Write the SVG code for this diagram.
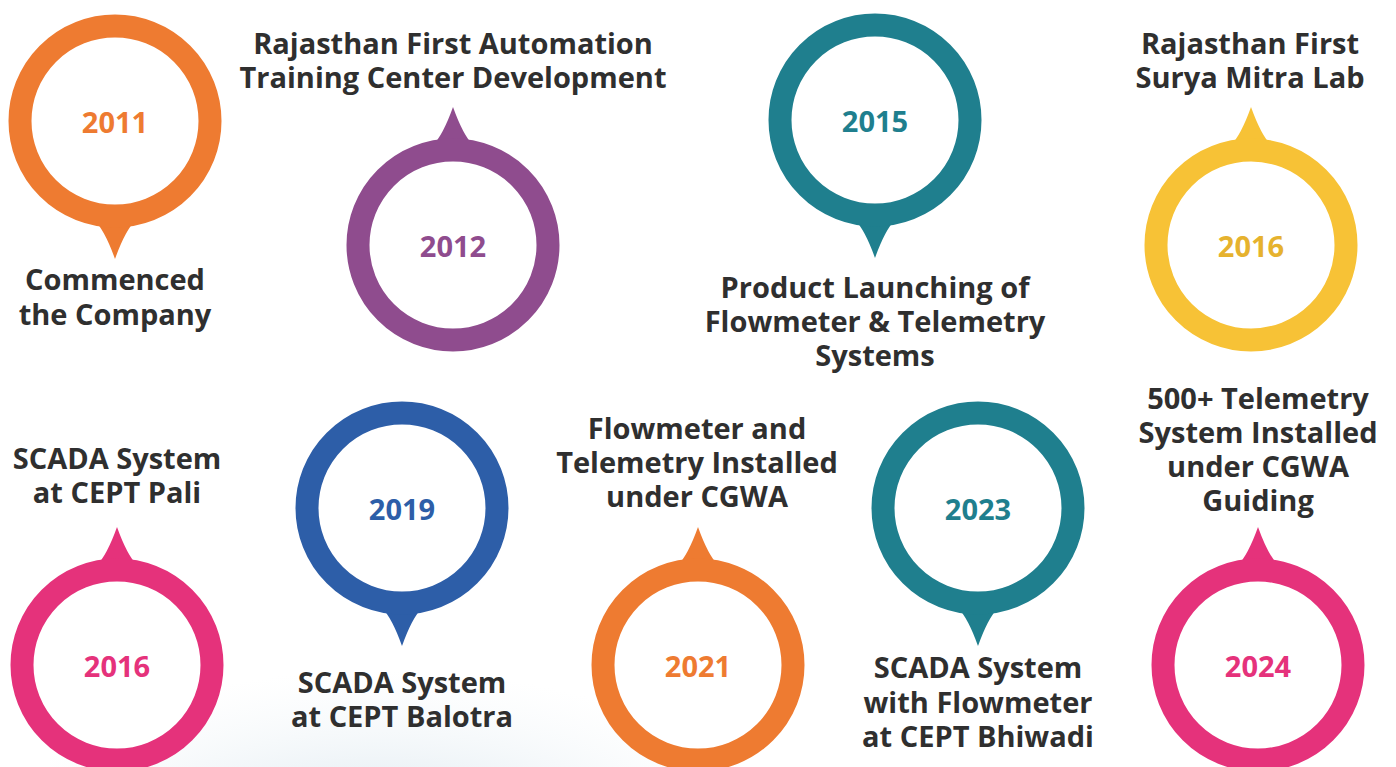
<svg xmlns="http://www.w3.org/2000/svg" width="1396" height="767" viewBox="0 0 1396 767">
<defs>
<style>
.lbl{font-family:"Open Sans","Noto Sans","DejaVu Sans",sans-serif;font-weight:700;font-size:29px;fill:#2f2f2f;text-anchor:middle}
.yr{font-family:"Open Sans","Noto Sans","DejaVu Sans",sans-serif;font-weight:700;font-size:29px;text-anchor:middle;dominant-baseline:central}
.ring{fill:#ffffff;stroke-width:23}
</style>
<path id="tipDown" d="M-20,100 Q-10,110 0,138 Q10,110 20,100 Z"/>
<path id="tipUp" d="M-20,-100 Q-10,-110 0,-138 Q10,-110 20,-100 Z"/>
<radialGradient id="splash" cx="0.5" cy="0.8" r="0.6">
<stop offset="0" stop-color="#c9dbe6" stop-opacity="0.8"/>
<stop offset="1" stop-color="#e8f0f5" stop-opacity="0"/>
</radialGradient>
</defs>
<rect width="1396" height="767" fill="#ffffff"/>
<ellipse cx="380" cy="760" rx="330" ry="150" fill="url(#splash)"/>
<g id="connectors"></g>

<g id="n2011">
<use href="#tipDown" transform="translate(115,121)" fill="#ee7b31"/>
<circle class="ring" cx="115" cy="121" r="95" stroke="#ee7b31"/>
<text class="yr" x="115" y="121" fill="#ee7b31">2011</text>
<text class="lbl" x="115" y="290">Commenced<tspan x="115" dy="35">the Company</tspan></text>
</g>

<g id="n2012">
<use href="#tipUp" transform="translate(453,245)" fill="#8f4c8e"/>
<circle class="ring" cx="453" cy="245" r="95" stroke="#8f4c8e"/>
<text class="yr" x="453" y="245" fill="#8f4c8e">2012</text>
<text class="lbl" x="453" y="54">Rajasthan First Automation<tspan x="453" dy="34">Training Center Development</tspan></text>
</g>

<g id="n2015">
<use href="#tipDown" transform="translate(875,120)" fill="#1f7f8e"/>
<circle class="ring" cx="875" cy="120" r="95" stroke="#1f7f8e"/>
<text class="yr" x="875" y="120" fill="#1f7f8e">2015</text>
<text class="lbl" x="875" y="298">Product Launching of<tspan x="875" dy="34">Flowmeter &amp; Telemetry</tspan><tspan x="875" dy="34">Systems</tspan></text>
</g>

<g id="n2016a">
<use href="#tipUp" transform="translate(1251,245)" fill="#f7c236"/>
<circle class="ring" cx="1251" cy="245" r="95" stroke="#f7c236"/>
<text class="yr" x="1251" y="245" fill="#e6b22e">2016</text>
<text class="lbl" x="1250" y="54">Rajasthan First<tspan x="1250" dy="34">Surya Mitra Lab</tspan></text>
</g>

<g id="n2016b">
<use href="#tipUp" transform="translate(117,665)" fill="#e5327b"/>
<circle class="ring" cx="117" cy="665" r="95" stroke="#e5327b"/>
<text class="yr" x="117" y="665" fill="#e5327b">2016</text>
<text class="lbl" x="117" y="469">SCADA System<tspan x="117" dy="34">at CEPT Pali</tspan></text>
</g>

<g id="n2019">
<use href="#tipDown" transform="translate(402,508)" fill="#2d5ea8"/>
<circle class="ring" cx="402" cy="508" r="95" stroke="#2d5ea8"/>
<text class="yr" x="402" y="508" fill="#2d5ea8">2019</text>
<text class="lbl" x="402" y="693">SCADA System<tspan x="402" dy="34">at CEPT Balotra</tspan></text>
</g>

<g id="n2021">
<use href="#tipUp" transform="translate(698,665)" fill="#ee7b31"/>
<circle class="ring" cx="698" cy="665" r="95" stroke="#ee7b31"/>
<text class="yr" x="698" y="665" fill="#ee7b31">2021</text>
<text class="lbl" x="697" y="439">Flowmeter and<tspan x="697" dy="34">Telemetry Installed</tspan><tspan x="697" dy="34">under CGWA</tspan></text>
</g>

<g id="n2023">
<use href="#tipDown" transform="translate(978,508)" fill="#1f7f8e"/>
<circle class="ring" cx="978" cy="508" r="95" stroke="#1f7f8e"/>
<text class="yr" x="978" y="508" fill="#1f7f8e">2023</text>
<text class="lbl" x="978" y="678">SCADA System<tspan x="978" dy="35">with Flowmeter</tspan><tspan x="978" dy="34">at CEPT Bhiwadi</tspan></text>
</g>

<g id="n2024">
<use href="#tipUp" transform="translate(1258,665)" fill="#e5327b"/>
<circle class="ring" cx="1258" cy="665" r="95" stroke="#e5327b"/>
<text class="yr" x="1258" y="665" fill="#e5327b">2024</text>
<text class="lbl" x="1258" y="409">500+ Telemetry<tspan x="1258" dy="34">System Installed</tspan><tspan x="1258" dy="34">under CGWA</tspan><tspan x="1258" dy="34">Guiding</tspan></text>
</g>
</svg>
